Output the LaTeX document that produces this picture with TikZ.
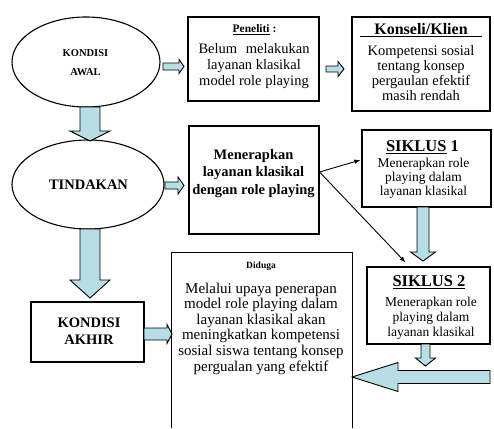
\documentclass[tikz,border=0pt]{standalone}
\usepackage{fontspec}
\setmainfont{Liberation Serif}
\usetikzlibrary{shapes.geometric,arrows.meta,calc}
\definecolor{arrcol}{RGB}{183,222,228}
\newcommand\fsz[2]{\fontsize{#1}{#2}\selectfont}
\newcommand\bkarrow[5]{%
  \coordinate (bkH) at ($(#2)!#5!(#1)$);
  \filldraw[blk] ($(#1)!#3!90:(#2)$) -- ($(bkH)!#3!-90:(#1)$) -- ($(bkH)!#4!-90:(#1)$) -- (#2) -- ($(bkH)!#4!90:(#1)$) -- ($(bkH)!#3!90:(#1)$) -- ($(#1)!#3!-90:(#2)$) -- cycle;}
\begin{document}
\begin{tikzpicture}[x=1pt,y=-1pt,
  box/.style={draw, line width=1.1pt, inner sep=0},
  oval/.style={ellipse, draw, line width=1.1pt, inner sep=0},
  lbl/.style={inner sep=0, align=center},
  blk/.style={fill=arrcol, draw=black, line width=0.9pt, line join=miter},
  thinarr/.style={line width=0.9pt, -{Latex[length=6pt,width=4.5pt]}}]
\useasboundingbox (0,0) rectangle (494,428);

% ellipses and boxes
\node[oval, minimum width=148pt, minimum height=90pt] (awal) at (86,62) {};
\node[lbl, font=\bfseries\fsz{10.5}{19}] (awaltxt) at (85.5,62.5) {KONDISI\\AWAL};

\node[oval, minimum width=152pt, minimum height=89pt] (tind) at (88,184.5) {};
\node[lbl, font=\bfseries\fsz{14.5}{17}] (tindtxt) at (88.5,185) {TINDAKAN};

\node[box, minimum width=113pt, minimum height=60pt] (akhir) at (87.5,332) {};
\node[lbl, font=\bfseries\fsz{14.5}{17}] (akhirtxt) at (89,331) {KONDISI\\AKHIR};

\node[box, minimum width=131pt, minimum height=84pt] (pen) at (253.5,59) {};
\node[lbl, font=\bfseries\fsz{11.5}{14}] (pentitle) at (254.5,30) {\underline{Peneliti} :};
\node[lbl, font=\fsz{14.5}{16}] (pentxt) at (254,66) {\makebox[111pt]{Belum\hfill melakukan}\\layanan klasikal\\model role playing};

\node[box, minimum width=138pt, minimum height=94pt] (kons) at (421,64) {};
\node[lbl, font=\bfseries\fsz{16}{18}] (konstitle) at (421,30) {\underline{\hspace{14pt}Konseli/Klien\hspace{14pt}}};
\node[lbl, font=\fsz{14.5}{15}] (konstxt) at (421,73.5) {Kompetensi sosial\\tentang konsep\\pergaulan efektif\\masih rendah};

\node[box, minimum width=130pt, minimum height=108pt] (men) at (254,180) {};
\node[lbl, font=\bfseries\fsz{14.5}{17.5}] (mentxt) at (253.5,173.5) {Menerapkan\\layanan klasikal\\dengan role playing};

\node[box, minimum width=129pt, minimum height=77pt] (s1) at (426.5,168.5) {};
\node[lbl, font=\bfseries\fsz{16.5}{18}] (s1title) at (422.5,147) {\underline{SIKLUS} 1};
\node[lbl, font=\fsz{13.5}{14}] (s1txt) at (423.5,178.5) {Menerapkan role\\playing dalam\\layanan klasikal};

\node[box, minimum width=123pt, minimum height=77pt] (s2) at (428.5,305.5) {};
\node[lbl, font=\bfseries\fsz{16.5}{18}] (s2title) at (429,282) {\underline{SIKLUS 2}};
\node[lbl, font=\fsz{13.5}{15}] (s2txt) at (431,318) {Menerapkan role\\playing dalam\\layanan klasikal};

\node[inner sep=0, minimum width=180pt, minimum height=175pt] (dug) at (262,340.5) {};
\draw[line width=1.1pt] (dug.south west) -- (dug.north west) -- (dug.north east) -- (dug.south east);
\node[lbl, font=\bfseries\fsz{9.5}{11}] (dugtitle) at (261,266) {Diduga};
\node[lbl, font=\fsz{15}{15.6}] (dugtxt) at (261,328.5) {Melalui upaya penerapan\\model role playing dalam\\layanan klasikal akan\\meningkatkan kompetensi\\sosial siswa tentang konsep\\pergualan yang efektif};

% block arrow end points
\coordinate (a1s) at (163,66.5);   \coordinate (a1e) at (184,66.5);
\coordinate (a2s) at (326,69);     \coordinate (a2e) at (344,69);
\coordinate (a3s) at (165,185.5);  \coordinate (a3e) at (184,185.5);
\coordinate (a4s) at (144,334);    \coordinate (a4e) at (172,334);
\coordinate (a5s) at (90,107);     \coordinate (a5e) at (90,141);
\coordinate (a6s) at (90,229);     \coordinate (a6e) at (90,298);
\coordinate (a7s) at (423,207);    \coordinate (a7e) at (423,261);
\coordinate (a8s) at (425.5,344);  \coordinate (a8e) at (425.5,366);
\coordinate (a9s) at (490,377);    \coordinate (a9e) at (352,377);

\bkarrow{a1s}{a1e}{3.5pt}{7pt}{5pt}
\bkarrow{a2s}{a2e}{3pt}{7.5pt}{6pt}
\bkarrow{a3s}{a3e}{3.5pt}{8.5pt}{6pt}
\bkarrow{a4s}{a4e}{6pt}{9.5pt}{5pt}
\bkarrow{a5s}{a5e}{10pt}{20pt}{10pt}
\bkarrow{a6s}{a6e}{10pt}{20pt}{18pt}
\bkarrow{a7s}{a7e}{6pt}{12.5pt}{9pt}
\bkarrow{a8s}{a8e}{4.5pt}{10pt}{8pt}
\bkarrow{a9s}{a9e}{6.5pt}{14.5pt}{46pt}

% thin arrows
\draw[thinarr] ([yshift=8pt]men.east) -- ([yshift=8.5pt,xshift=-1pt]s1.west);
\draw[thinarr] ([yshift=8pt]men.east) -- ([xshift=-23pt,yshift=4pt]s2.north);
\end{tikzpicture}
\end{document}
